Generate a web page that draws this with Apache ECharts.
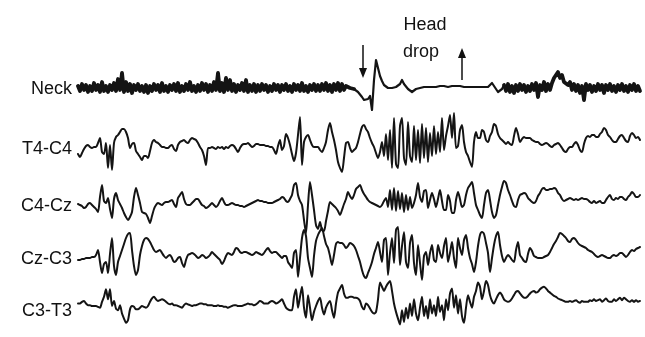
<!DOCTYPE html>
<html>
<head>
<meta charset="utf-8">
<script src="https://cdn.jsdelivr.net/npm/echarts@6/dist/echarts.min.js"></script>
<style>
  html, body { margin: 0; padding: 0; background: #fff; }
  #chart { width: 645px; height: 337px; }
</style>
</head>
<body>
<div id="chart"></div>
<script>
// channel names, top to bottom
const channels = ['Neck', 'T4-C4', 'C4-Cz', 'Cz-C3', 'C3-T3'];

// amplitudes, one sample per time step, positive = up
const neck = [
  2,-3,4,-2,3,-4,2,-3,5,-2,3,-4,6,-3,2,
  -4,3,-2,5,-3,9,-2,15,-4,6,-3,4,-5,3,-2,
  4,-3,2,-4,3,-5,2,-3,4,-2,3,-4,5,-3,2,
  -4,3,-2,4,-3,5,-4,2,-3,4,-2,6,-3,2,-4,
  3,-3,5,-2,4,-4,3,-3,6,-2,15,-3,5,-4,10,
  -2,8,-3,4,-4,3,-2,5,-3,8,-4,3,-3,4,-4,
  3,-3,4,-2,3,-4,2,-3,4,-2,3,-4,3,-2,4,
  -3,2,-4,4,-2,3,-3,5,-3,2,-4,3,-2,4,-3,
  3,-3,4,-2,5,-3,3,-4,4,-2,5,-3,4,-2,2,
  2,0,1,-1,-2,-4,-6,-9,-12,-14,-11,-8,-22,8,28,
  20,12,7,3,1,0,0,0,0,1,1,4,8,4,2,
  -1,-2,-4,-2,-1,0,0,1,1,1,1,1,1,1,1,
  1,2,1,2,2,1,2,2,2,2,2,2,2,1,2,
  1,1,1,1,1,1,1,1,1,1,1,2,5,2,-1,
  -4,-2,-1,3,-3,4,-4,2,-5,3,-3,4,-2,3,-4,
  2,-3,4,-2,5,-9,3,-2,6,-3,4,-2,5,10,8,
  16,10,13,6,8,3,6,-2,4,-3,3,-5,2,-12,4,
  -2,3,-4,2,-3,4,-2,3,-5,3,-2,4,-3,2,-4,
  3,-2,4,-3,2,-4,3,-2,4,-3,2,-3
];

const t4c4 = [
  -6,-9,-5,-1,2,3,1,0,1,1,5,10,-4,-6,5,
  -20,3,-22,5,11,13,16,19,19,16,10,0,4,5,-3,
  -6,-9,-12,-8,-8,-10,-3,5,8,6,5,3,1,1,0,
  0,2,3,-1,-3,3,6,7,8,6,5,8,10,9,8,
  5,1,-2,-8,-17,0,0,1,0,-1,1,0,1,-1,1,
  0,2,3,2,-1,-4,0,3,4,4,5,3,1,2,4,
  4,3,3,3,2,2,1,1,-2,-6,2,8,-2,2,14,
  10,3,-6,-13,-5,13,31,-17,6,11,13,8,3,1,1,
  1,-2,-4,0,6,18,25,16,8,-2,-14,-20,-24,-10,5,
  6,0,-4,-2,0,6,14,21,23,19,16,10,5,1,-5,
  -10,-4,6,-8,14,-12,18,-20,30,-16,-20,22,30,-10,-17,
  26,-8,-14,22,-12,18,-15,24,-10,20,-14,15,-8,22,-6,
  16,-4,30,-2,12,22,33,10,35,0,2,18,23,6,-4,
  -8,-14,-19,6,16,10,10,18,16,8,6,12,16,24,22,
  14,10,8,6,4,6,4,3,12,20,14,6,9,11,10,
  10,10,8,7,6,6,4,3,4,5,4,2,1,3,4,
  5,3,0,-3,-4,-1,1,1,4,6,3,-2,-4,4,10,
  12,11,13,13,11,11,14,16,20,18,13,11,8,6,6,
  9,12,13,10,7,6,12,15,13,10,11,8
];

const c4cz = [
  1,0,-1,-3,-2,1,2,0,-2,-4,-7,8,20,4,2,
  7,-4,-13,6,12,5,1,-3,-8,-12,-15,-12,-7,8,17,
  10,2,-7,-8,-9,-13,-18,-11,-4,0,2,1,0,2,3,
  3,4,5,1,-2,7,10,13,6,1,0,0,2,4,6,
  6,3,0,-1,-3,-2,0,2,0,-2,0,4,7,3,0,
  0,1,2,1,0,0,-1,-1,-2,-1,0,1,2,3,4,
  5,4,4,3,3,2,2,2,3,4,5,6,8,7,4,
  3,6,10,20,22,10,4,0,-15,-28,0,23,10,-5,-20,
  -24,-17,-25,-26,-16,-6,3,1,-1,-3,-6,-10,-5,1,6,
  13,9,6,10,16,18,20,15,11,8,5,3,2,1,0,
  -1,-2,0,4,7,-2,15,-5,17,-6,14,-4,12,-7,10,
  -5,8,-3,2,10,22,8,3,14,15,-3,5,12,6,-2,
  6,15,4,-5,-5,10,4,-8,-8,5,13,6,-2,0,10,
  17,20,23,12,0,-5,-10,-13,0,12,15,5,-7,-13,-10,
  0,10,18,24,22,15,10,4,-1,-2,5,10,11,12,11,
  7,5,3,2,4,9,12,16,17,15,15,16,16,17,16,
  12,10,6,4,5,6,7,6,5,6,5,6,7,6,6,
  5,3,2,4,2,3,4,2,2,5,8,10,6,5,7,
  6,8,8,6,5,8,10,13,11,8,8,10
];

const czc3 = [
  -2,-2,-1,-1,0,0,0,1,1,3,8,-4,-15,-6,-4,
  -15,4,20,-8,-17,-4,2,8,14,20,24,25,8,-8,-17,
  -12,3,12,18,20,19,16,12,8,6,7,8,5,2,0,
  2,3,0,-4,-3,0,1,-5,-9,-2,3,4,5,4,2,
  0,1,3,2,0,1,3,6,4,2,0,-2,-6,-3,2,
  5,4,3,6,10,9,6,5,6,6,5,4,3,4,6,
  5,4,3,5,8,10,7,5,6,6,4,2,0,2,2,
  -4,-7,-10,5,8,-19,0,20,28,22,0,-10,-19,2,17,
  23,27,30,22,14,10,2,-7,3,14,16,15,15,13,10,
  12,15,14,12,8,2,-4,-12,-18,-20,-15,-10,-4,4,10,
  16,6,-4,18,20,-17,5,20,-5,28,31,-7,12,26,-4,
  -10,15,23,-5,-17,13,-5,-22,2,6,-7,5,13,-2,-4,
  13,5,0,12,20,-4,5,16,0,-10,20,10,3,18,23,
  10,0,-6,-14,-4,12,23,26,24,15,5,-14,0,13,22,
  26,13,2,-4,0,3,1,-2,-4,8,16,3,0,-3,-4,
  4,10,7,2,1,0,0,0,1,2,3,6,10,14,17,
  21,25,24,22,20,17,16,19,20,18,15,13,12,11,10,
  8,7,6,4,2,1,2,3,2,1,0,0,2,3,2,
  3,5,5,3,1,3,6,8,7,9,10,11
];

const c3t3 = [
  0,0,2,3,0,-2,-2,-3,-3,-3,-4,-5,2,8,17,
  5,17,-3,3,-6,-8,-2,-12,-18,-23,-20,-7,-3,-4,-7,
  -7,-5,-3,-4,-5,-3,2,6,8,5,3,4,5,4,2,
  0,-1,0,-2,-2,-3,-4,-5,-2,0,-1,-2,-3,-2,-2,
  -1,0,0,-1,-1,-2,-2,-2,-3,-3,-2,-3,-3,-4,-4,
  -5,-4,-3,-2,-2,-3,-3,-3,-2,-1,0,-1,-1,-2,-1,
  1,3,2,0,0,0,2,3,2,0,1,3,5,0,-5,
  -7,-8,-8,8,17,-5,8,20,-5,-17,10,-5,-20,-10,-3,
  3,7,-5,-13,-5,0,3,-8,-17,0,13,18,22,12,7,
  7,8,8,7,7,6,3,-4,-7,0,-2,-6,-10,-12,-10,
  5,25,20,15,20,24,27,15,0,-10,-18,-25,-8,-22,-5,
  -18,0,-15,5,-12,-20,-5,8,-15,-3,-18,5,-12,-2,-15,
  8,-10,-2,-20,5,-8,12,18,-5,10,-12,5,-15,-23,-5,
  10,2,-5,8,15,25,20,5,15,27,22,10,3,0,5,
  10,13,10,5,3,2,3,6,10,14,15,12,9,7,7,
  9,12,14,15,13,14,17,19,20,18,15,13,11,9,8,
  6,5,4,3,2,2,3,2,3,4,2,1,3,2,2,
  2,4,3,5,3,4,5,2,4,6,3,2,2,5,3,
  5,7,4,7,5,3,2,4,2,4,2,3
];

const traces = [neck, t4c4, c4cz, czc3, c3t3];
const annotation = ['Head', 'drop'];
// sample range of the quiet neck stretch around the head drop
const neckQuiet = [138, 213];

const chart = echarts.init(document.getElementById('chart'));

const centers = [88, 148, 205, 258, 310];
const halfH = 40;
const grid = [], xAxis = [], yAxis = [], series = [];

function lineSeries(k, data, width, smooth) {
  return {
    name: channels[k],
    type: 'line',
    xAxisIndex: k,
    yAxisIndex: k,
    data: data,
    showSymbol: false,
    clip: false,
    sampling: null,
    smooth: smooth,
    lineStyle: { color: '#141414', width: width, join: 'round', cap: 'round' }
  };
}

traces.forEach((vals, k) => {
  grid.push({ left: 78, right: 5, top: centers[k] - halfH, height: halfH * 2 });
  xAxis.push({ type: 'value', gridIndex: k, min: 0, max: vals.length - 1, show: false });
  yAxis.push({ type: 'value', gridIndex: k, min: -halfH, max: halfH, show: false });
  const pts = vals.map((v, i) => [i, v]);
  if (k === 0) {
    // noisy parts drawn heavier than the flat stretch
    series.push(lineSeries(k, pts.slice(0, neckQuiet[0] + 1), 3.8, false));
    series.push(lineSeries(k, pts.slice(neckQuiet[0], neckQuiet[1] + 1), 2.2, false));
    series.push(lineSeries(k, pts.slice(neckQuiet[1]), 3.8, false));
  } else {
    series.push(lineSeries(k, pts, 2, 0.25));
  }
});

const font = '18px "Liberation Sans", Arial, sans-serif';
const graphic = channels.map((name, k) => ({
  type: 'text',
  x: 72,
  y: centers[k] + 1,
  style: { text: name, font: font, fill: '#111', textAlign: 'right', textVerticalAlign: 'middle' }
}));

graphic.push(
  { type: 'text', x: 425, y: 25, style: { text: annotation[0], font: font, fill: '#111', textAlign: 'center', textVerticalAlign: 'middle' } },
  { type: 'text', x: 421, y: 52, style: { text: annotation[1], font: font, fill: '#111', textAlign: 'center', textVerticalAlign: 'middle' } },
  // down arrow
  { type: 'line', shape: { x1: 363, y1: 45, x2: 363, y2: 70 }, style: { stroke: '#111', lineWidth: 1.5 } },
  { type: 'polygon', shape: { points: [[359, 68], [367, 68], [363, 78]] }, style: { fill: '#111' } },
  // up arrow
  { type: 'line', shape: { x1: 462, y1: 80, x2: 462, y2: 56 }, style: { stroke: '#111', lineWidth: 1.5 } },
  { type: 'polygon', shape: { points: [[458, 58], [466, 58], [462, 48]] }, style: { fill: '#111' } }
);

chart.setOption({
  animation: false,
  backgroundColor: '#fff',
  grid: grid,
  xAxis: xAxis,
  yAxis: yAxis,
  series: series,
  graphic: graphic
});
</script>
</body>
</html>
